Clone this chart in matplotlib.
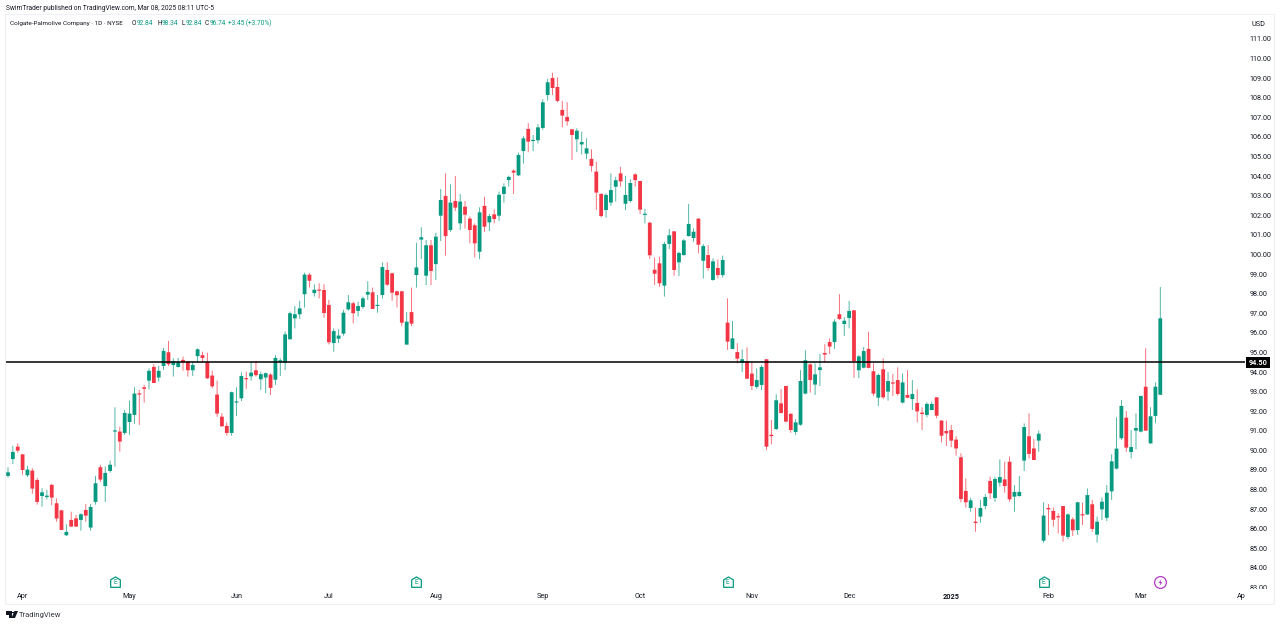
import numpy as np
import matplotlib
matplotlib.use("Agg")
import matplotlib.pyplot as plt
from matplotlib.patches import Rectangle, Polygon, Circle
from matplotlib.path import Path
from matplotlib.transforms import blended_transform_factory, Bbox

# daily candles
opens = [88.70, 89.56, 90.19, 89.80, 88.73, 88.97, 88.49, 87.67, 87.62, 88.24,
         87.30, 86.94, 85.67, 86.45, 86.53, 86.45, 86.96, 86.06, 87.37, 89.14,
         88.18, 88.95, 90.96, 90.96, 90.89, 91.45, 91.81, 92.90, 93.22, 93.56,
         94.26, 93.72, 94.31, 95.01, 94.36, 94.26, 94.62, 94.53, 94.09, 94.81,
         94.86, 94.50, 93.82, 92.85, 91.72, 91.25, 90.89, 92.44, 92.66, 93.68,
         93.78, 94.09, 93.63, 93.72, 93.87, 93.61, 94.50, 94.48, 95.67, 96.74,
         96.95, 97.97, 98.97, 98.03, 98.20, 98.19, 97.42, 95.48, 95.70, 95.96,
         97.20, 97.51, 97.12, 97.32, 97.95, 98.07, 97.37, 97.93, 99.21, 99.04,
         98.12, 98.12, 95.40, 97.06, 98.95, 100.76, 98.92, 100.47, 99.51, 101.98,
         102.99, 101.25, 102.73, 101.59, 102.44, 101.83, 101.49, 100.14, 102.48, 101.64,
         102.05, 101.98, 103.09, 103.80, 104.28, 104.04, 105.28, 106.41, 105.79, 105.83,
         106.46, 108.14, 109.01, 108.55, 107.38, 107.02, 106.39, 105.88, 105.62, 105.15,
         104.88, 104.23, 103.09, 102.27, 102.65, 103.46, 104.14, 102.59, 102.73, 104.09,
         103.75, 102.02, 101.62, 99.22, 99.55, 98.41, 100.54, 101.18, 99.60, 99.97,
         100.94, 100.84, 101.83, 99.68, 99.97, 98.70, 99.31, 98.95, 96.52, 95.18,
         95.02, 94.48, 94.55, 93.92, 93.24, 93.34, 94.65, 90.80, 91.09, 92.40,
         93.29, 91.87, 90.94, 91.31, 92.90, 94.39, 93.36, 94.10, 94.97, 95.53,
         95.53, 96.95, 96.45, 96.76, 97.15, 94.09, 94.22, 95.18, 94.04, 92.69,
         94.14, 93.00, 93.44, 93.59, 92.44, 92.83, 92.62, 92.42, 91.93, 91.81,
         92.06, 92.71, 91.52, 90.99, 91.04, 90.55, 89.65, 87.93, 87.06, 86.36,
         86.62, 87.16, 88.44, 87.57, 88.35, 88.52, 89.42, 87.64, 87.67, 89.48,
         90.72, 90.10, 90.50, 85.39, 87.06, 86.91, 86.63, 87.16, 85.58, 86.48,
         85.93, 86.73, 86.73, 87.25, 85.70, 86.99, 86.56, 87.91, 89.07, 90.62,
         91.67, 89.92, 91.01, 90.96, 93.25, 90.36, 91.76, 92.84]
closes = [88.88, 89.92, 89.99, 89.00, 89.02, 88.05, 87.37, 87.86, 87.69, 87.59,
          86.52, 85.94, 85.84, 86.11, 86.11, 86.74, 86.67, 87.11, 88.32, 88.51,
          88.85, 89.27, 90.99, 90.45, 91.91, 91.88, 92.90, 92.85, 93.14, 94.06,
          93.44, 94.06, 95.08, 94.40, 94.55, 94.50, 94.50, 94.09, 94.36, 95.16,
          94.72, 93.68, 93.27, 91.88, 91.23, 90.89, 92.97, 92.47, 93.80, 93.63,
          93.97, 93.84, 93.89, 93.94, 93.19, 94.72, 94.60, 95.92, 97.00, 96.95,
          97.25, 98.97, 98.66, 98.20, 98.15, 97.01, 95.52, 96.09, 95.86, 97.03,
          97.56, 97.00, 97.37, 97.76, 98.09, 97.22, 97.42, 99.36, 98.46, 98.05,
          97.92, 96.52, 96.57, 96.47, 99.34, 100.88, 100.47, 99.16, 100.91, 102.78,
          100.94, 102.65, 102.39, 102.70, 102.03, 101.25, 100.57, 102.15, 101.42, 101.96,
          101.81, 103.05, 103.46, 103.96, 104.18, 105.08, 105.93, 105.76, 105.85, 106.49,
          107.77, 108.79, 108.50, 107.84, 107.09, 106.80, 106.10, 106.32, 105.74, 105.42,
          104.52, 103.16, 101.96, 103.04, 103.29, 103.79, 103.73, 103.04, 103.65, 103.80,
          102.29, 102.07, 99.96, 99.02, 98.53, 100.54, 100.98, 99.21, 100.08, 100.72,
          101.56, 101.16, 100.50, 100.43, 99.31, 99.65, 98.95, 99.72, 95.55, 95.72,
          94.68, 94.65, 93.66, 93.29, 93.59, 94.26, 90.19, 90.73, 92.56, 91.91,
          91.47, 91.04, 91.43, 93.54, 94.60, 93.59, 93.88, 94.24, 94.89, 95.30,
          96.57, 96.71, 96.62, 97.12, 94.56, 94.80, 95.07, 94.21, 92.90, 93.85,
          92.71, 93.54, 93.41, 92.88, 93.47, 92.69, 92.88, 91.99, 91.86, 92.37,
          92.37, 91.77, 90.75, 90.87, 90.50, 90.10, 87.52, 87.35, 87.45, 86.29,
          87.06, 87.62, 87.81, 88.54, 88.64, 88.18, 87.50, 87.88, 87.88, 91.19,
          89.82, 89.51, 90.85, 86.67, 86.99, 86.46, 86.58, 85.65, 86.73, 85.92,
          87.35, 86.68, 87.72, 85.99, 86.36, 87.38, 87.84, 89.44, 90.09, 92.27,
          90.14, 90.17, 91.14, 92.78, 91.01, 91.74, 93.25, 96.74]
highs = [89.14, 90.23, 90.36, 89.80, 89.21, 89.09, 88.59, 88.07, 87.98, 88.29,
         87.55, 86.96, 86.23, 86.87, 86.70, 86.79, 87.27, 87.27, 88.70, 89.26,
         89.17, 89.48, 92.20, 91.21, 92.07, 92.54, 93.22, 93.09, 93.34, 94.19,
         94.40, 94.31, 95.23, 95.59, 94.70, 94.72, 94.79, 94.53, 94.53, 95.21,
         95.04, 94.99, 94.07, 93.56, 91.90, 91.42, 93.00, 93.22, 93.99, 94.02,
         94.53, 94.57, 94.02, 93.97, 93.94, 94.86, 94.70, 96.06, 97.08, 97.37,
         97.64, 99.07, 99.04, 98.48, 98.53, 98.48, 97.68, 96.23, 96.18, 97.17,
         97.93, 97.59, 97.59, 97.85, 98.63, 98.31, 97.93, 99.60, 99.60, 99.07,
         98.15, 98.15, 97.06, 98.31, 100.60, 101.39, 100.74, 100.74, 101.11, 103.34,
         104.14, 103.58, 104.01, 103.09, 102.73, 101.93, 101.59, 102.41, 102.95, 102.07,
         102.31, 103.21, 103.63, 104.02, 104.35, 105.20, 106.05, 106.70, 106.10, 106.66,
         107.92, 108.96, 109.28, 109.04, 107.84, 107.77, 106.41, 106.44, 106.27, 105.93,
         105.37, 104.74, 103.12, 103.12, 104.14, 103.97, 104.48, 104.02, 103.84, 104.14,
         103.77, 102.32, 101.68, 99.85, 99.89, 100.65, 101.30, 101.20, 100.14, 100.79,
         102.58, 101.33, 101.85, 100.54, 100.48, 99.80, 99.75, 99.94, 97.76, 96.61,
         95.47, 95.16, 95.26, 94.53, 94.19, 94.36, 94.67, 91.55, 92.86, 93.13,
         93.29, 91.89, 91.59, 94.10, 95.11, 94.44, 94.44, 94.92, 95.42, 95.72,
         96.69, 97.97, 96.79, 97.63, 97.17, 94.87, 95.28, 96.06, 94.44, 93.93,
         94.70, 93.99, 93.90, 94.24, 93.93, 94.10, 93.59, 93.12, 92.20, 92.45,
         92.49, 92.71, 91.55, 91.52, 91.30, 90.73, 89.85, 88.57, 87.59, 87.08,
         87.47, 87.76, 88.66, 88.66, 89.54, 89.42, 89.68, 88.23, 88.69, 91.38,
         91.89, 90.58, 91.01, 87.35, 87.26, 87.09, 86.79, 87.16, 86.79, 86.58,
         87.38, 87.33, 88.06, 87.47, 86.62, 87.60, 88.23, 89.80, 91.69, 92.57,
         92.01, 91.04, 91.89, 92.79, 95.21, 92.20, 93.47, 98.34]
lows = [88.61, 89.31, 89.89, 88.75, 88.64, 87.79, 87.23, 87.13, 87.50, 87.20,
        86.36, 85.94, 85.63, 86.11, 86.11, 85.90, 86.36, 85.90, 87.23, 88.39,
        87.37, 88.87, 89.17, 89.94, 90.79, 90.79, 91.35, 91.30, 92.44, 93.12,
        93.44, 93.51, 94.11, 94.31, 93.77, 94.23, 94.07, 93.77, 93.80, 94.48,
        94.50, 93.65, 93.17, 91.72, 91.21, 90.75, 90.75, 91.76, 92.52, 93.14,
        93.56, 93.77, 93.09, 92.92, 92.83, 93.34, 93.80, 94.10, 95.67, 96.23,
        96.71, 97.29, 98.31, 97.85, 97.76, 96.77, 95.41, 95.04, 95.48, 95.86,
        97.13, 96.49, 96.83, 97.23, 97.68, 97.22, 97.03, 97.75, 98.39, 97.64,
        97.30, 96.35, 95.40, 96.35, 98.31, 99.77, 98.44, 98.44, 98.70, 100.69,
        99.94, 101.16, 102.22, 101.25, 101.32, 100.57, 99.85, 99.75, 101.15, 101.20,
        101.59, 101.71, 102.65, 103.46, 103.09, 104.01, 104.64, 105.22, 105.28, 105.67,
        106.37, 107.85, 108.14, 107.77, 106.49, 106.58, 104.82, 105.23, 105.11, 104.86,
        104.23, 102.27, 101.90, 101.88, 102.49, 102.70, 103.46, 102.27, 102.65, 103.46,
        102.07, 101.59, 99.77, 98.44, 98.34, 97.85, 100.28, 98.92, 98.90, 99.94,
        100.91, 100.65, 100.06, 98.78, 99.17, 98.66, 98.78, 98.82, 95.13, 95.16,
        94.44, 94.00, 93.65, 93.08, 93.15, 93.08, 90.02, 90.31, 91.04, 91.89,
        91.43, 90.90, 90.79, 91.26, 92.86, 92.95, 92.83, 93.29, 94.48, 94.92,
        95.18, 96.66, 95.84, 96.23, 93.70, 93.68, 94.19, 94.19, 92.78, 92.27,
        92.61, 92.54, 92.78, 92.79, 92.40, 92.66, 92.06, 91.43, 91.04, 91.69,
        92.06, 91.64, 90.41, 90.22, 90.16, 89.73, 87.35, 87.08, 86.87, 85.85,
        86.31, 86.99, 87.52, 87.38, 88.15, 87.84, 87.38, 86.87, 87.64, 88.95,
        89.59, 89.51, 89.93, 85.29, 85.68, 86.11, 85.76, 85.34, 85.46, 85.63,
        85.68, 86.19, 86.70, 85.85, 85.29, 86.45, 86.39, 87.47, 89.03, 90.53,
        89.93, 89.59, 90.05, 90.92, 90.99, 90.33, 91.38, 92.84]

price_ticks = list(range(83, 112))
month_labels = ["Apr", "May", "Jun", "Jul", "Aug", "Sep", "Oct", "Nov", "Dec", "2025", "Feb", "Mar", "Apr"]
month_bars = [3, 25, 47, 66, 88, 110, 130, 153, 173, 194, 214, 233, 254]
earnings_bars = [22, 84, 148, 213]
dividend_bars = [237]
level = 94.50

GREEN = "#089981"
RED = "#F23645"
TEXT = "#131722"
W, H = 1280, 624

plt.rcParams["font.family"] = ["Roboto", "DejaVu Sans"]


def fx(x):
    return x / W


def fy(y):
    return 1 - y / H


fig = plt.figure(figsize=(12.8, 6.24), dpi=100, facecolor="white")

# outer frame of the chart
fig.add_artist(Rectangle((fx(5), fy(604)), fx(1269), 590 / H, transform=fig.transFigure,
                         fill=False, ec="#eef0f5", lw=0.8))

# price pane
ax = fig.add_axes([fx(5.5), fy(604), (1245 - 5.5) / W, 589 / H])
step = 4.862
ax.set_xlim((5.5 - 8) / step, (1245 - 8) / step)
ax.set_ylim(111 - 565 / 19.59, 111 + 24 / 19.59)
for s in ax.spines.values():
    s.set_visible(False)

opens = np.array(opens)
closes = np.array(closes)
highs = np.array(highs)
lows = np.array(lows)
bars = np.arange(len(opens))
colors = np.where(closes >= opens, GREEN, RED)

wicks = ax.vlines(bars, lows, highs, colors=colors, lw=0.62, zorder=2, alpha=0.8)
wicks.set_snap(False)
tops = np.maximum(opens, closes)
bottoms = np.minimum(opens, closes)
bodies = ax.bar(bars, np.maximum(tops - bottoms, 0.06), bottom=bottoms, width=0.78, color=colors, lw=0, zorder=3)
for body in bodies:
    body.set_snap(False)

ax.axhline(level, color="black", lw=1.1, zorder=4)

# price and time scales
ax.yaxis.tick_right()
ax.set_yticks(price_ticks)
ax.set_yticklabels(["%.2f" % p for p in price_ticks])
ax.tick_params(axis="y", length=0, pad=3.2, labelsize=5.2, labelcolor=TEXT)
ax.set_xticks(month_bars)
ax.set_xticklabels(month_labels)
ax.tick_params(axis="x", length=0, pad=-7.8, labelsize=5.2, labelcolor=TEXT)
for lab in ax.get_xticklabels():
    if lab.get_text() == "2025":
        lab.set_fontweight("bold")
    lab.set_clip_box(ax.bbox)
    lab.set_clip_on(True)
for lab in ax.get_yticklabels():
    lab.set_clip_box(Bbox.from_extents(1246, H - 589, 1274, H))
    lab.set_clip_on(True)

# earnings and dividend marks along the bottom
trans = blended_transform_factory(ax.transData, ax.transAxes)
mark_y = (604 - 582) / 589
house = Path([(-1, -1), (1, -1), (1, 0.55), (0, 1.15), (-1, 0.55), (-1, -1)], closed=True)
ax.plot(earnings_bars, [mark_y] * len(earnings_bars), ls="none", marker=house, ms=8, mfc="white",
        mec=GREEN, mew=0.9, transform=trans, zorder=5, clip_on=False)
for b in earnings_bars:
    ax.text(b, mark_y, "E", transform=trans, ha="center", va="center", fontsize=4.8, color=GREEN, zorder=6)
ax.plot(dividend_bars, [mark_y] * len(dividend_bars), ls="none", marker="o", ms=8.5, mfc="white",
        mec="#B13CC4", mew=0.9, transform=trans, zorder=5)
bolt = Path([(0.25, 1), (-0.55, -0.1), (-0.05, -0.1), (-0.25, -1), (0.55, 0.15), (0.05, 0.15), (0.25, 1)], closed=True)
ax.plot(dividend_bars, [mark_y] * len(dividend_bars), ls="none", marker=bolt, ms=5, mfc="#B13CC4",
        mec="none", transform=trans, zorder=6)

# level tag on the price scale
fig.add_artist(Rectangle((fx(1246), fy(368)), 24 / W, 11 / H, transform=fig.transFigure, fc="black", ec="none"))
fig.text(fx(1258), fy(362.7), "94.50", color="white", fontsize=5.2, fontweight="bold", ha="center", va="center")
fig.text(fx(1258), fy(25), "USD", color=TEXT, fontsize=5.2, ha="center", va="center")

# header and legend
fig.text(fx(5.5), fy(8), "SwimTrader published on TradingView.com, Mar 08, 2025 08:11 UTC-5", color=TEXT,
         fontsize=4.8, ha="left", va="center")
fig.text(fx(10), fy(23.5), "Colgate-Palmolive Company · 1D · NYSE", color=TEXT, fontsize=4.6, ha="left", va="center")
legend_parts = [("O", 132, TEXT), ("92.84", 136.5, GREEN), ("H", 157, TEXT), ("98.34", 161.5, GREEN),
                ("L", 182, TEXT), ("92.84", 185.5, GREEN), ("C", 205, TEXT), ("96.74", 209.5, GREEN),
                ("+3.45 (+3.70%)", 228.5, GREEN)]
for part, x, col in legend_parts:
    fig.text(fx(x), fy(23.5), part, color=col, fontsize=4.7, ha="left", va="center")

# TradingView logo
fig.add_artist(Polygon([(fx(6), fy(611)), (fx(12), fy(611)), (fx(12), fy(618)), (fx(9), fy(618)), (fx(9), fy(614.5)), (fx(6), fy(614.5))],
                       transform=fig.transFigure, fc=TEXT, ec="none"))
fig.add_artist(Circle((fx(13.3), fy(612.6)), 1.5 / W, transform=fig.transFigure, fc=TEXT, ec="none"))
fig.add_artist(Polygon([(fx(14.5), fy(611)), (fx(18), fy(611)), (fx(15), fy(618)), (fx(11.5), fy(618))],
                       transform=fig.transFigure, fc=TEXT, ec="none"))
fig.text(fx(19), fy(614.5), "TradingView", color="#363a45", fontsize=5.5, ha="left", va="center")

fig.savefig("out.png", dpi=100, facecolor="white")
